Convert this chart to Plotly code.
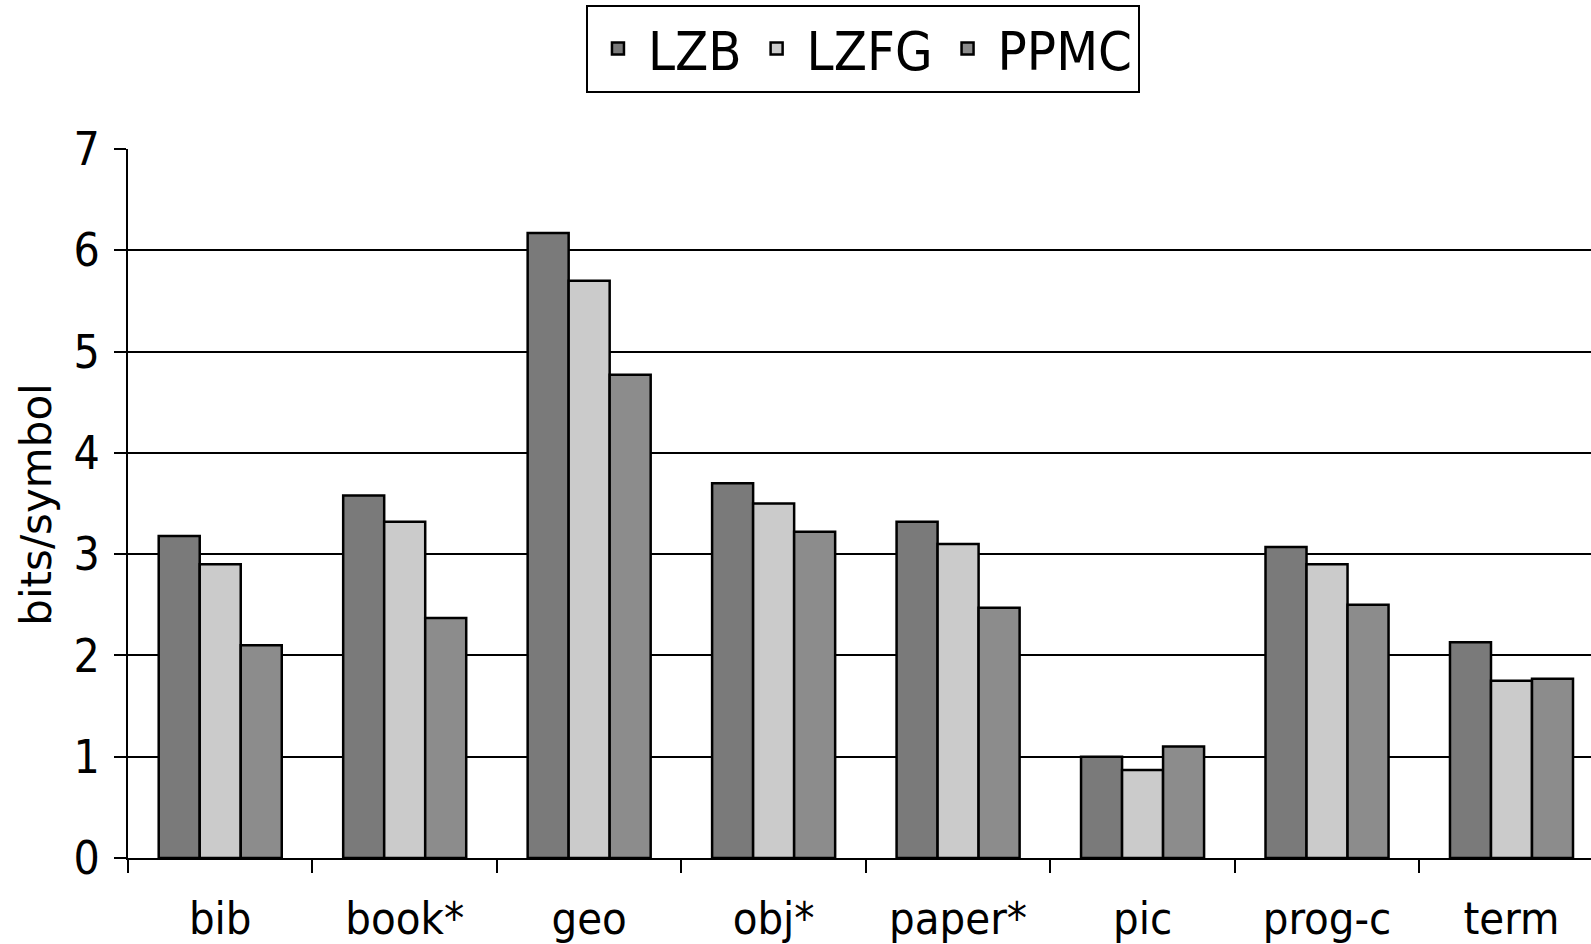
import plotly.graph_objects as go

categories = ["bib", "book*", "geo", "obj*", "paper*", "pic", "prog-c", "term"]
lzb = [3.18, 3.58, 6.17, 3.70, 3.32, 1.00, 3.07, 2.13]
lzfg = [2.90, 3.32, 5.70, 3.50, 3.10, 0.87, 2.90, 1.75]
ppmc = [2.10, 2.37, 4.77, 3.22, 2.47, 1.10, 2.50, 1.77]
y_ticks = [0, 1, 2, 3, 4, 5, 6, 7]

NARROW = "DejaVu Sans Condensed, Liberation Sans Narrow, sans-serif"

series = [("LZB", lzb, "#7a7a7a"), ("LZFG", lzfg, "#cbcbcb"), ("PPMC", ppmc, "#8c8c8c")]

fig = go.Figure()
for name, vals, col in series:
    fig.add_trace(go.Bar(
        x=categories, y=vals, name=name,
        marker=dict(color=col, line=dict(color="black", width=2.5)),
    ))

fig.update_layout(
    width=1591, height=944,
    margin=dict(l=128, r=0, t=149, b=86, pad=0, autoexpand=False),
    paper_bgcolor="white", plot_bgcolor="white",
    barmode="group", bargap=0.333, bargroupgap=0,
    showlegend=True,
    legend=dict(
        orientation="h", xref="container", yref="container",
        x=0.5424, xanchor="center", y=0.9947, yanchor="top",
        font=dict(family=NARROW, size=54, color="black"),
        bordercolor="black", borderwidth=2, bgcolor="white",
        itemwidth=50, tracegroupgap=0,
    ),
    font=dict(family=NARROW, color="black"),
    annotations=[dict(
        text="bits/symbol", textangle=-90, showarrow=False,
        xref="paper", yref="paper", x=-0.0627, y=0.4986,
        xanchor="center", yanchor="middle",
        font=dict(family="DejaVu Sans, sans-serif", size=42, color="black"),
    )],
)

fig.update_xaxes(
    type="category", range=[-0.5, 7.431], automargin=False,
    showline=True, linecolor="black", linewidth=2,
    ticks="outside", tickson="boundaries", ticklen=13, tickwidth=2, tickcolor="black",
    tickfont=dict(family=NARROW, size=45, color="black"),
    ticklabelstandoff=20,
    showgrid=False, zeroline=False,
)
fig.update_yaxes(
    range=[0, 7], tickvals=y_ticks, automargin=False,
    showline=True, linecolor="black", linewidth=2,
    ticks="outside", ticklen=12, tickwidth=2, tickcolor="black",
    tickfont=dict(family=NARROW, size=46, color="black"),
    ticklabelstandoff=5,
    showgrid=True, gridcolor="black", gridwidth=2,
    zeroline=False,
)

fig.write_html("out.html", config={"displayModeBar": False},
               post_script="document.body.style.margin='0';")
